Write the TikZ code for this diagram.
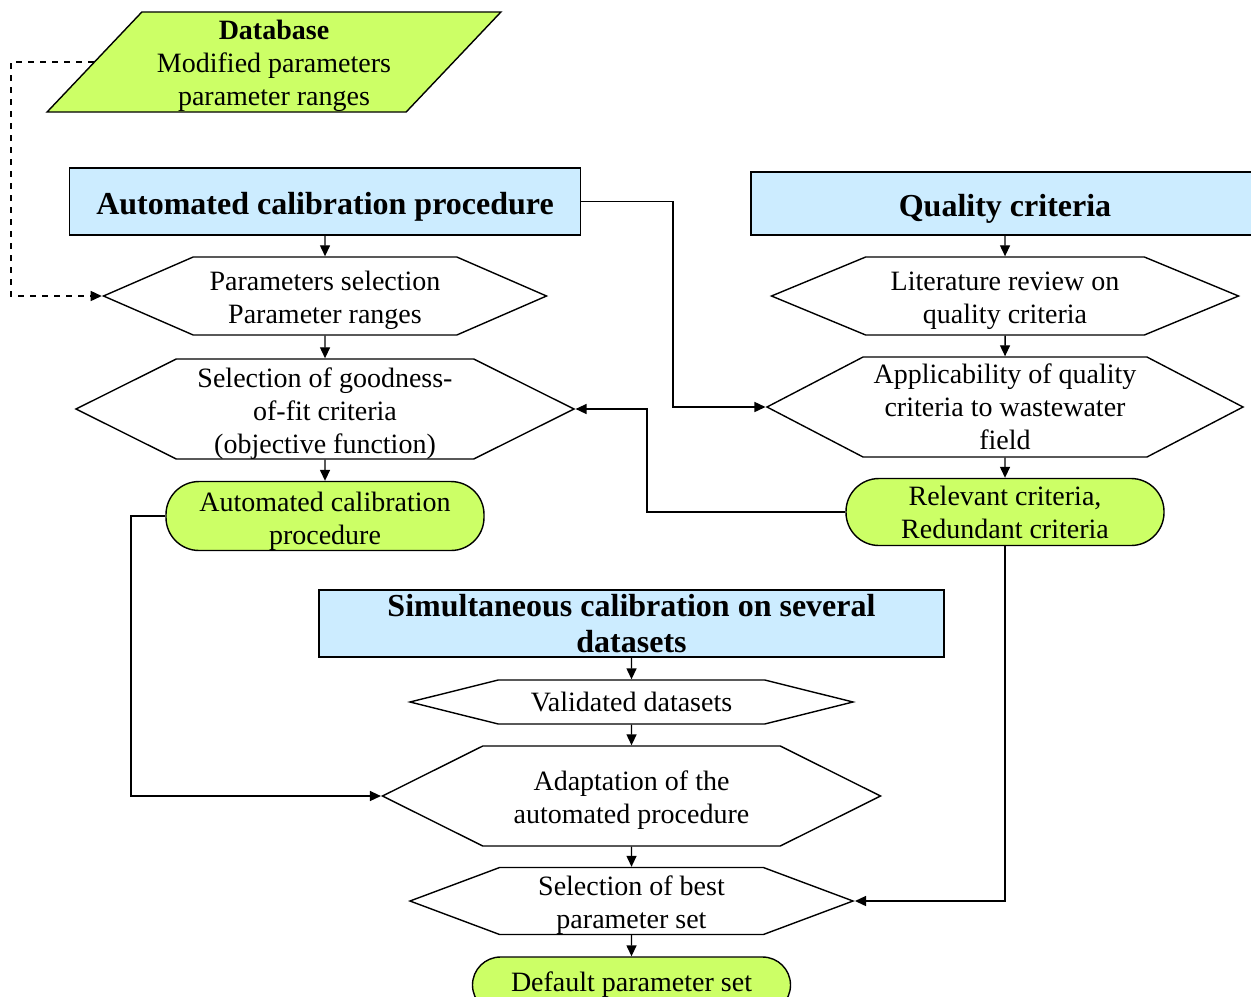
\documentclass[tikz,border=0pt]{standalone}
\usepackage{fontspec}
\setmainfont{Liberation Serif}
\usetikzlibrary{shapes.geometric, shapes.symbols, arrows.meta}
\definecolor{boxblue}{RGB}{204, 236, 255}
\definecolor{boxgreen}{RGB}{204, 255, 102}
\newcommand{\tstrut}[1][14pt]{\rule{0pt}{#1}}

\begin{document}
\begin{tikzpicture}[
    x=0.5pt, y=-0.5pt,
    font=\fontsize{14}{16.5}\selectfont,
    line width=0.7pt,
    >={Triangle[length=5.5pt, width=5pt]},
    titlebox/.style={draw, fill=boxblue, inner sep=0pt, align=center, font=\fontsize{16}{18}\selectfont\bfseries},
    hexa/.style={shape=signal, signal to=west and east, draw, fill=white, inner sep=0pt, align=center, signal pointer angle=#1},
    hexa/.default=50,
    pill/.style={draw, fill=boxgreen, inner sep=0pt, align=center, rounded corners=16.5pt, minimum width=159pt, minimum height=33.5pt}
]

    \useasboundingbox (0,0) rectangle (1251,996);

    % --- Bend points ---
    \coordinate (jA) at (673,0);
    \coordinate (jB) at (647,0);
    \coordinate (jC) at (131,0);
    \coordinate (jD) at (11,0);

    % --- Database ---
    \node[shape=trapezium, trapezium left angle=50, trapezium right angle=130, trapezium stretches=true,
          draw, fill=boxgreen, inner sep=0pt, align=center, minimum width=227pt, minimum height=50pt]
          (db) at (274,62) {\tstrut\textbf{Database}\\Modified parameters\\parameter ranges};

    % --- Left column: automated calibration ---
    \node[titlebox, minimum width=255.5pt, minimum height=33.5pt] (acp) at (325,201.5) {\tstrut[16.5pt]Automated calibration procedure};
    \node[hexa=47, minimum width=221.5pt, minimum height=39pt] (psel) at (325,296) {\tstrut Parameters selection\\Parameter ranges};
    \node[hexa=53, minimum width=249pt, minimum height=50pt] (gof) at (325,409) {\tstrut Selection of goodness-\\of-fit criteria\\(objective function)};
    \node[pill] (acpout) at (325,516) {\tstrut[15pt]Automated calibration\\procedure};

    % --- Right column: quality criteria ---
    \node[titlebox, minimum width=254pt, minimum height=31.5pt] (qc) at (1005,203.5) {\tstrut[16.5pt]Quality criteria};
    \node[hexa=45, minimum width=233.5pt, minimum height=39pt] (lit) at (1005,296) {\tstrut Literature review on\\quality criteria};
    \node[hexa=55, minimum width=238pt, minimum height=50pt] (appl) at (1005,407) {Applicability of quality\\criteria to wastewater\\field};
    \node[pill] (rel) at (1005,512) {Relevant criteria,\\Redundant criteria};

    % --- Middle column: several datasets ---
    \node[titlebox, minimum width=312.5pt, minimum height=33.5pt] (sim) at (631.5,623.5) {Simultaneous calibration on several\\datasets};
    \node[hexa=28, minimum width=221.5pt, minimum height=22pt] (val) at (631.5,702) {Validated datasets};
    \node[hexa=53, minimum width=249pt, minimum height=50pt] (adapt) at (631.5,796) {\tstrut Adaptation of the\\automated procedure};
    \node[hexa=41, minimum width=221.5pt, minimum height=33pt] (best) at (631.5,901) {\tstrut Selection of best\\parameter set};
    \node[pill, minimum height=28pt, rounded corners=14pt] (dps) at (631.5,985) {Default parameter set};

    % --- Straight arrows ---
    \draw[->] (acp) -- (psel);
    \draw[->] (psel) -- (gof);
    \draw[->] (gof) -- (acpout);
    \draw[->] (qc) -- (lit);
    \draw[->] (lit) -- (appl);
    \draw[->] (appl) -- (rel);
    \draw[->] (sim) -- (val);
    \draw[->] (val) -- (adapt);
    \draw[->] (adapt) -- (best);
    \draw[->] (best) -- (dps);

    % --- Bent connectors ---
    \draw[dashed, ->] (db.west) -- (db.west -| jD) |- (psel.west);
    \draw[->] (acp.east) -- (acp.east -| jA) |- (appl.west);
    \draw[->] (rel.west) -- (rel.west -| jB) |- (gof.east);
    \draw[->] (acpout.west) -- (acpout.west -| jC) |- (adapt.west);
    \draw[->] (rel.south) |- (best.east);

\end{tikzpicture}
\end{document}
